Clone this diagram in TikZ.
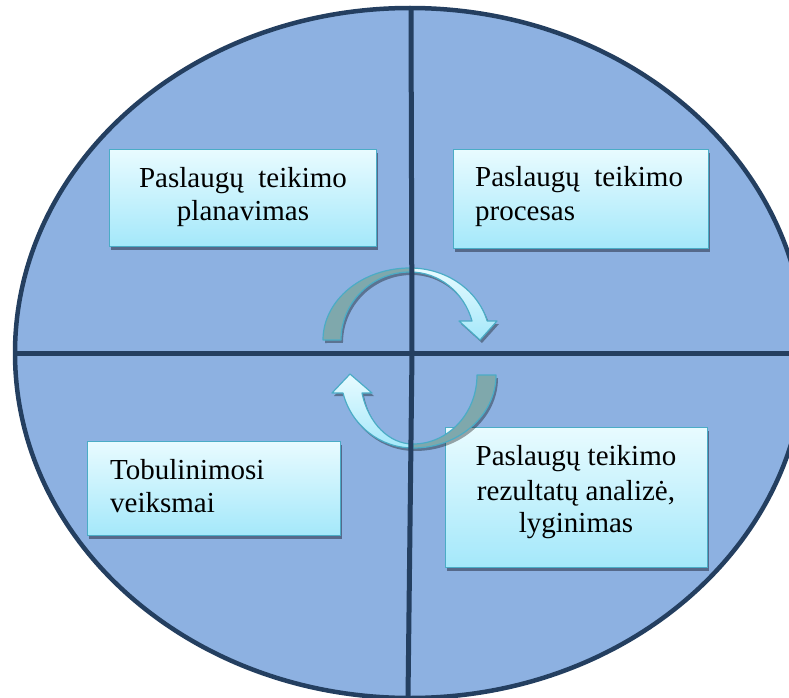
\documentclass[tikz,border=0pt]{standalone}
\usepackage{fontspec}
\setmainfont{Liberation Serif}
\definecolor{bgfill}{HTML}{8DB1E1}
\definecolor{navyline}{HTML}{243F60}
\definecolor{boxedge}{HTML}{4BACC6}
\definecolor{boxtop}{HTML}{E8FBFF}
\definecolor{boxbot}{HTML}{A4E8FA}
\definecolor{shadowc}{HTML}{55698A}
\definecolor{arrgray}{HTML}{7FA8AC}
\tikzset{
  boxshape/.style={draw=boxedge, line width=1.3pt, top color=boxtop, bottom color=boxbot,
    rectangle, inner sep=0pt, anchor=north west},
  lbl/.style={font=\fontsize{29}{34}\selectfont, inner sep=0pt},
  arrowedge/.style={draw=boxedge, line width=1.2pt, line join=round},
  arrowcyan/.style={arrowedge, top color=boxtop, bottom color=boxbot},
  arrowshadow/.style={fill=black, fill opacity=0.35, draw=none},
  divider/.style={draw=navyline, line width=5pt},
}
\begin{document}
\begin{tikzpicture}[x=1pt,y=-1pt]
\path[use as bounding box] (0,0) rectangle (789,698);
\clip (0,0) rectangle (789,698);
% main ellipse
\fill[bgfill] (410,353) ellipse [x radius=395, y radius=345];

% box shadows
\fill[shadowc] (111,153) rectangle ++(267,97);
\fill[shadowc] (455,153) rectangle ++(255,99);
\fill[shadowc] (89,445) rectangle ++(253,94);
\fill[shadowc] (447,431) rectangle ++(262,140);

% boxes
\node[boxshape, minimum width=267pt, minimum height=97pt] (b1) at (109,149) {};
\node[boxshape, minimum width=255pt, minimum height=99pt] (b2) at (453,149) {};
\node[boxshape, minimum width=253pt, minimum height=94pt] (b3) at (87,441) {};
\node[boxshape, minimum width=262pt, minimum height=140pt] (b4) at (445,427) {};

% texts
\node[lbl, anchor=base] (t1a) at (243,187) {Paslaugų\ \ teikimo};
\node[lbl, anchor=base] (t1b) at (243,220) {planavimas};
\node[lbl, anchor=base west] (t2a) at (475,186) {Paslaugų\ \ teikimo};
\node[lbl, anchor=base west] (t2b) at (475,220) {procesas};
\node[lbl, anchor=base west] (t3a) at (110,479) {Tobulinimosi};
\node[lbl, anchor=base west] (t3b) at (110,512) {veiksmai};
\node[lbl, anchor=base] (t4a) at (576,465) {Paslaugų teikimo};
\node[lbl, anchor=base] (t4b) at (576,500) {rezultatų analizė,};
\node[lbl, anchor=base] (t4c) at (576,532) {lyginimas};

% arrow shadows
\begin{scope}[shift={(2,3)}]
\path[arrowshadow] (323,340) arc[start angle=180,end angle=270,x radius=87,y radius=72]
  arc[start angle=270,end angle=344.7,x radius=80,y radius=72]
  -- (497,321) -- (480,340) -- (459,321) -- (472,321)
  arc[start angle=343.8,end angle=270,x radius=64.6,y radius=68]
  arc[start angle=270,end angle=180,x radius=69,y radius=68] -- cycle;
\path[arrowshadow] (496,375) arc[start angle=0,end angle=90,x radius=83,y radius=73]
  arc[start angle=90,end angle=165.7,x radius=72.2,y radius=73]
  -- (332,393) -- (350,374) -- (372,393) -- (362,393)
  arc[start angle=164.9,end angle=90,x radius=52.8,y radius=69]
  arc[start angle=90,end angle=0,x radius=64,y radius=69] -- cycle;
\end{scope}

% upper arrow
\draw[arrowedge, fill=arrgray] (323,340) arc[start angle=180,end angle=270,x radius=87,y radius=72]
  -- (410,272) arc[start angle=270,end angle=180,x radius=69,y radius=68] -- cycle;
\draw[arrowcyan] (410,268) arc[start angle=270,end angle=344.7,x radius=80,y radius=72]
  -- (497,321) -- (480,340) -- (459,321) -- (472,321)
  arc[start angle=343.8,end angle=270,x radius=64.6,y radius=68] -- cycle;

% lower arrow
\draw[arrowedge, fill=arrgray] (496,375) arc[start angle=0,end angle=90,x radius=83,y radius=73]
  -- (413,444) arc[start angle=90,end angle=0,x radius=64,y radius=69] -- cycle;
\draw[arrowcyan] (413,448) arc[start angle=90,end angle=165.7,x radius=72.2,y radius=73]
  -- (332,393) -- (350,374) -- (372,393) -- (362,393)
  arc[start angle=164.9,end angle=90,x radius=52.8,y radius=69] -- cycle;

% dividers
\coordinate (vtop) at (411,8);
\coordinate (vmid) at (412,353);
\coordinate (vbot) at (408,698);
\coordinate (hl) at (15,353);
\coordinate (hr) at (800,353);
\draw[divider] (vtop) -- (vmid) -- (vbot);
\draw[divider] (hl) -- (hr);

% ellipse border
\draw[navyline, line width=4.5pt] (410,353) ellipse [x radius=395, y radius=345];
\end{tikzpicture}
\end{document}
